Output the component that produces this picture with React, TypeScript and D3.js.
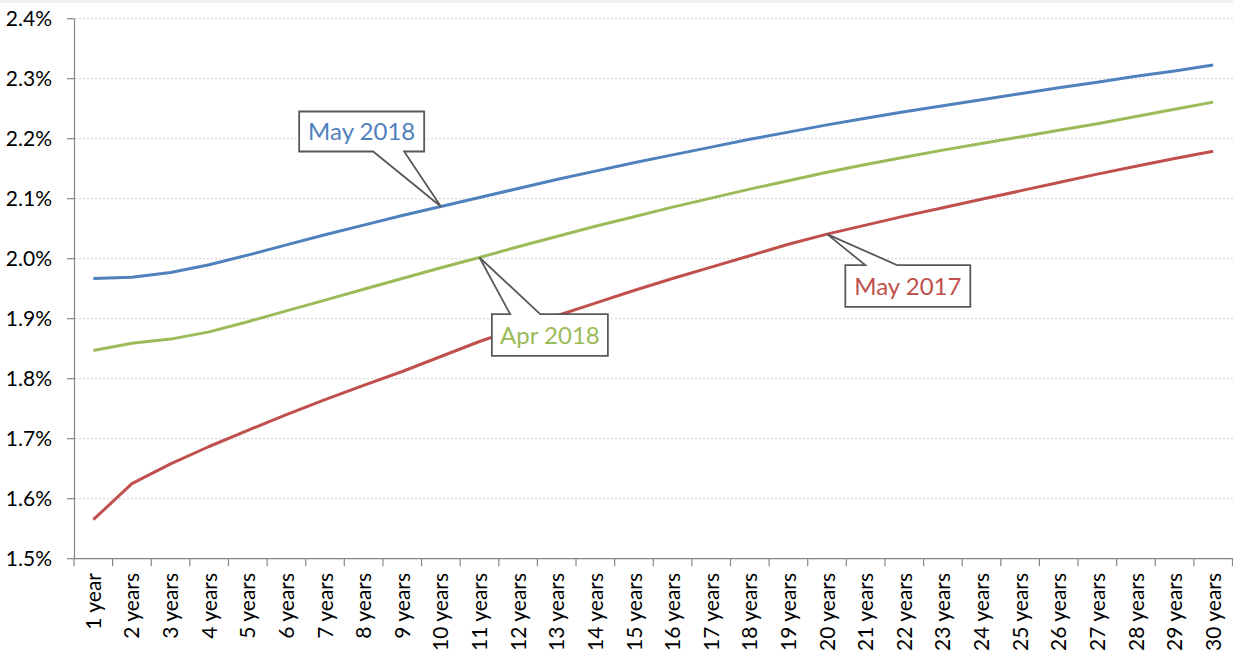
import React from "react";
import * as d3 from "d3";

const terms = [
  "1 year", "2 years", "3 years", "4 years", "5 years", "6 years", "7 years", "8 years", "9 years", "10 years",
  "11 years", "12 years", "13 years", "14 years", "15 years", "16 years", "17 years", "18 years", "19 years", "20 years",
  "21 years", "22 years", "23 years", "24 years", "25 years", "26 years", "27 years", "28 years", "29 years", "30 years",
];

const may2018 = [1.967, 1.969, 1.977, 1.990, 2.006, 2.023, 2.040, 2.056, 2.072, 2.087, 2.102, 2.117, 2.132, 2.146, 2.160,
  2.173, 2.186, 2.199, 2.211, 2.223, 2.234, 2.245, 2.255, 2.265, 2.275, 2.285, 2.294, 2.304, 2.313, 2.323];
const apr2018 = [1.847, 1.859, 1.866, 1.878, 1.895, 1.913, 1.931, 1.949, 1.967, 1.985, 2.002, 2.020, 2.037, 2.054, 2.070,
  2.086, 2.101, 2.116, 2.130, 2.144, 2.157, 2.169, 2.181, 2.192, 2.203, 2.214, 2.225, 2.237, 2.249, 2.261];
const may2017 = [1.565, 1.625, 1.658, 1.687, 1.714, 1.740, 1.765, 1.789, 1.812, 1.837, 1.862, 1.884, 1.905, 1.926, 1.947,
  1.967, 1.986, 2.005, 2.024, 2.041, 2.056, 2.071, 2.085, 2.099, 2.113, 2.127, 2.141, 2.154, 2.167, 2.179];

const yTicks = [1.5, 1.6, 1.7, 1.8, 1.9, 2.0, 2.1, 2.2, 2.3, 2.4];

const seriesNames = ["May 2018", "Apr 2018", "May 2017"];
const seriesColors = ["#4F81BD", "#9BBB59", "#C0504D"];
const seriesValues = [may2018, apr2018, may2017];
// index of the term that each callout points at
const calloutAt = [9, 10, 19];

const W = 1233, H = 658;
const FONT = "Lato, 'Open Sans', sans-serif";

const App = () => {
  const x = d3.scaleBand().domain(terms).range([74, 1232.5]);
  const y = d3.scaleLinear().domain([1.5, 2.4]).range([558.7, 18.7]);
  const cx = (t: string) => (x(t) as number) + x.bandwidth() / 2;

  const line = d3.line<number>()
    .x((d, i) => cx(terms[i]))
    .y((d) => y(d));

  // callout shapes, offsets from the point they point to
  const callouts = seriesNames.map((name, s) => {
    const i = calloutAt[s];
    const tx = cx(terms[i]);
    const ty = y(seriesValues[s][i]);
    let bx, by, bw, bh, w1, w2, d;
    if (s === 0) {
      bx = tx - 141.7; by = ty - 95; bw = 125; bh = 40; w1 = bx + 74; w2 = bx + 105;
      d = `M${bx},${by}H${bx + bw}V${by + bh}H${w2}L${tx},${ty}L${w1},${by + bh}H${bx}Z`;
    } else if (s === 1) {
      bx = tx + 12.4; by = ty + 56.6; bw = 116; bh = 41.7; w1 = bx + 18.3; w2 = bx + 48.3;
      d = `M${bx},${by}H${w1}L${tx},${ty}L${w2},${by}H${bx + bw}V${by + bh}H${bx}Z`;
    } else {
      bx = tx + 18.3; by = ty + 31; bw = 125; bh = 41.7; w1 = bx + 20; w2 = bx + 51.7;
      d = `M${bx},${by}H${w1}L${tx},${ty}L${w2},${by}H${bx + bw}V${by + bh}H${bx}Z`;
    }
    return { name, color: seriesColors[s], d, tx: bx + bw / 2, ty: by + bh / 2 };
  });

  const bounds = terms.map((t) => x(t) as number).concat([x.range()[1]]);

  return (
    <div style={{ position: "absolute", left: 0, top: 0 }}>
      <svg width={W} height={H} style={{ display: "block", fontFamily: FONT }}>
        <rect x={0} y={0} width={W} height={H} fill="#fff" />
        <rect x={0} y={0} width={W} height={3} fill="#f0f0f0" />

        {/* gridlines */}
        {yTicks.map((t) => (
          <line key={"g" + t} x1={75} x2={W} y1={y(t)} y2={y(t)}
            stroke="#d0d0d0" strokeWidth={1} strokeDasharray="2,2" />
        ))}

        {/* y axis */}
        <line x1={74.5} x2={74.5} y1={y(2.4)} y2={y(1.5)} stroke="#868686" strokeWidth={1.2} />
        {yTicks.map((t) => (
          <g key={"y" + t}>
            <line x1={67} x2={74.5} y1={y(t)} y2={y(t)} stroke="#868686" strokeWidth={1.2} />
            <text x={52} y={y(t)} dy="0.36em" textAnchor="end" fontSize={21} fill="#000">
              {d3.format(".1f")(t) + "%"}
            </text>
          </g>
        ))}

        {/* x axis */}
        <line x1={74} x2={1233} y1={y(1.5)} y2={y(1.5)} stroke="#868686" strokeWidth={1.2} />
        {bounds.map((b, i) => (
          <line key={"xt" + i} x1={b} x2={b} y1={y(1.5)} y2={y(1.5) + 7.5} stroke="#868686" strokeWidth={1.2} />
        ))}
        {terms.map((t) => (
          <text key={"xl" + t} transform={`translate(${cx(t)},${573}) rotate(-90)`}
            dy="0.36em" textAnchor="end" fontSize={21} fill="#000">
            {t}
          </text>
        ))}

        {/* series */}
        {seriesValues.map((vals, s) => (
          <path key={"s" + s} d={line(vals) as string} fill="none"
            stroke={seriesColors[s]} strokeWidth={3} strokeLinejoin="round" />
        ))}

        {/* callouts */}
        {callouts.map((c) => (
          <g key={c.name}>
            <path d={c.d} fill="#fff" stroke="#595959" strokeWidth={1.8} strokeLinejoin="miter" />
            <text x={c.tx} y={c.ty} dy="0.36em" textAnchor="middle" fontSize={24} fill={c.color}>
              {c.name}
            </text>
          </g>
        ))}
      </svg>
    </div>
  );
};

export default App;
